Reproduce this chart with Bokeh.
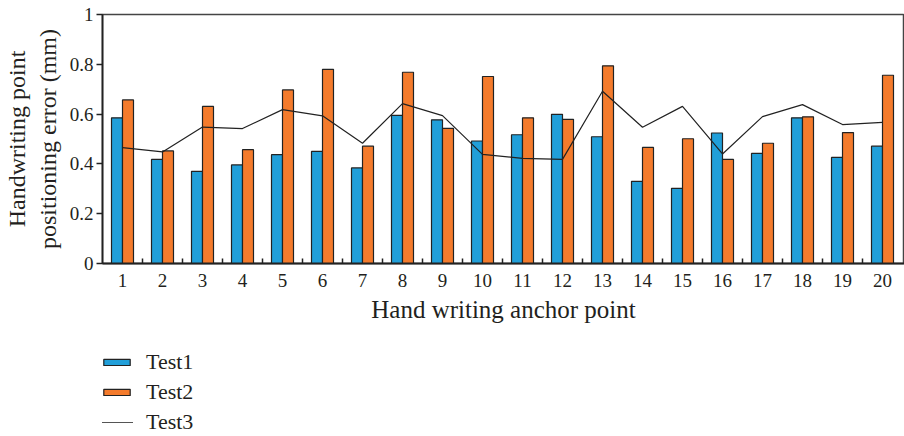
from bokeh.plotting import figure
from bokeh.layouts import column
from bokeh.models import ColumnDataSource, FixedTicker, Legend, LegendItem, Range1d
from bokeh.transform import dodge
from bokeh.embed import file_html
from bokeh.resources import INLINE

points = list(range(1, 21))
tick_labels = [str(i) for i in points]
test1 = [0.585, 0.418, 0.370, 0.396, 0.437, 0.450, 0.384, 0.595, 0.577, 0.492,
         0.517, 0.599, 0.509, 0.330, 0.302, 0.524, 0.442, 0.585, 0.426, 0.471]
test2 = [0.657, 0.452, 0.631, 0.457, 0.697, 0.780, 0.471, 0.768, 0.543, 0.751,
         0.585, 0.579, 0.794, 0.466, 0.501, 0.418, 0.483, 0.589, 0.526, 0.756]
test3 = [0.465, 0.448, 0.548, 0.542, 0.618, 0.593, 0.483, 0.642, 0.594, 0.438,
         0.422, 0.418, 0.692, 0.547, 0.631, 0.440, 0.590, 0.638, 0.558, 0.567]
y_ticks = [0, 0.2, 0.4, 0.6, 0.8, 1]
series_names = ["Test1", "Test2", "Test3"]

FONT = "Liberation Serif"
TXT = "#231f20"
BLUE = "#219fd9"
ORANGE = "#f47b2c"
EDGE = "#222222"

src = ColumnDataSource(dict(x=points, t1=test1, t2=test2, t3=test3))

H1 = 340
p = figure(width=904, height=H1, output_backend="svg", toolbar_location=None,
           x_range=Range1d(0.5, 20.55), y_range=Range1d(0, 1),
           min_border_left=102, min_border_right=0, min_border_top=14,
           min_border_bottom=H1 - 263)
p.background_fill_color = "white"
p.border_fill_color = "white"
p.xgrid.visible = False
p.ygrid.visible = False
p.outline_line_color = "#444444"
p.outline_line_width = 1.5

bw = 0.275
p.vbar(x=dodge("x", -bw / 2, range=p.x_range), top="t1", width=bw, source=src,
       fill_color=BLUE, line_color=EDGE, line_width=1.2)
p.vbar(x=dodge("x", bw / 2, range=p.x_range), top="t2", width=bw, source=src,
       fill_color=ORANGE, line_color=EDGE, line_width=1.2)
p.line(x="x", y="t3", source=src, line_color=EDGE, line_width=1.2)

# x axis
p.xaxis.ticker = FixedTicker(ticks=points, minor_ticks=[i + 0.5 for i in points[:-1]])
p.xaxis.major_label_overrides = {i: s for i, s in zip(points, tick_labels)}
p.xaxis.major_tick_in = 0
p.xaxis.major_tick_out = 0
p.xaxis.minor_tick_in = 5
p.xaxis.minor_tick_out = 0
p.xaxis.minor_tick_line_color = EDGE
p.xaxis.minor_tick_line_width = 1.5
p.xaxis.axis_line_color = EDGE
p.xaxis.axis_line_width = 1.8
p.xaxis.major_label_standoff = 10
p.xaxis.axis_label = "Hand writing anchor point"
p.xaxis.axis_label_standoff = 6

# y axis
p.yaxis.ticker = FixedTicker(ticks=y_ticks)
p.yaxis.major_label_overrides = {0: "0", 1: "1"}
p.yaxis.major_tick_in = 0
p.yaxis.major_tick_out = 6
p.yaxis.minor_tick_line_color = None
p.yaxis.major_tick_line_color = EDGE
p.yaxis.major_tick_line_width = 1.5
p.yaxis.axis_line_color = EDGE
p.yaxis.axis_line_width = 1.8
p.yaxis.major_label_standoff = 3
p.yaxis.axis_label = "Handwriting point\npositioning error (mm)"
p.yaxis.axis_label_standoff = 6

for ax in (p.xaxis, p.yaxis):
    ax.major_label_text_font = FONT
    ax.major_label_text_font_size = "19px"
    ax.major_label_text_color = TXT
    ax.axis_label_text_font = FONT
    ax.axis_label_text_font_style = "normal"
    ax.axis_label_text_color = TXT
p.xaxis.axis_label_text_font_size = "25px"
p.yaxis.axis_label_text_font_size = "24px"

# legend panel below the chart (its renderers are hidden; only the legend shows)
H2 = 436 - H1
lg = figure(width=904, height=H2, output_backend="svg", toolbar_location=None,
            x_axis_location=None, y_axis_location=None,
            min_border=0, min_border_left=0, min_border_right=0,
            min_border_top=0, min_border_bottom=0,
            x_range=Range1d(100, 101), y_range=Range1d(100, 101))
lg.outline_line_color = None
lg.xgrid.visible = False
lg.ygrid.visible = False
g1 = lg.vbar(x="x", top="t1", width=bw, source=src,
             fill_color=BLUE, line_color=EDGE, line_width=1.2)
g2 = lg.vbar(x="x", top="t2", width=bw, source=src,
             fill_color=ORANGE, line_color=EDGE, line_width=1.2)
g3 = lg.line(x="x", y="t3", source=src, line_color="#555555", line_width=1.2)
for g in (g1, g2, g3):
    g.visible = False

legend = Legend(items=[LegendItem(label=n, renderers=[r])
                       for n, r in zip(series_names, [g1, g2, g3])],
                location=(-2, 1))
legend.border_line_color = None
legend.background_fill_alpha = 0
legend.inactive_fill_alpha = 0
legend.padding = 0
legend.margin = 0
legend.spacing = 4
legend.glyph_width = 33
legend.glyph_height = 8
legend.label_height = 22
legend.label_standoff = 13
legend.label_text_font = FONT
legend.label_text_font_size = "22px"
legend.label_text_color = TXT
lg.add_layout(legend, "center")

layout = column(p, lg, spacing=0)
open("out.html", "w").write(file_html(layout, INLINE))
